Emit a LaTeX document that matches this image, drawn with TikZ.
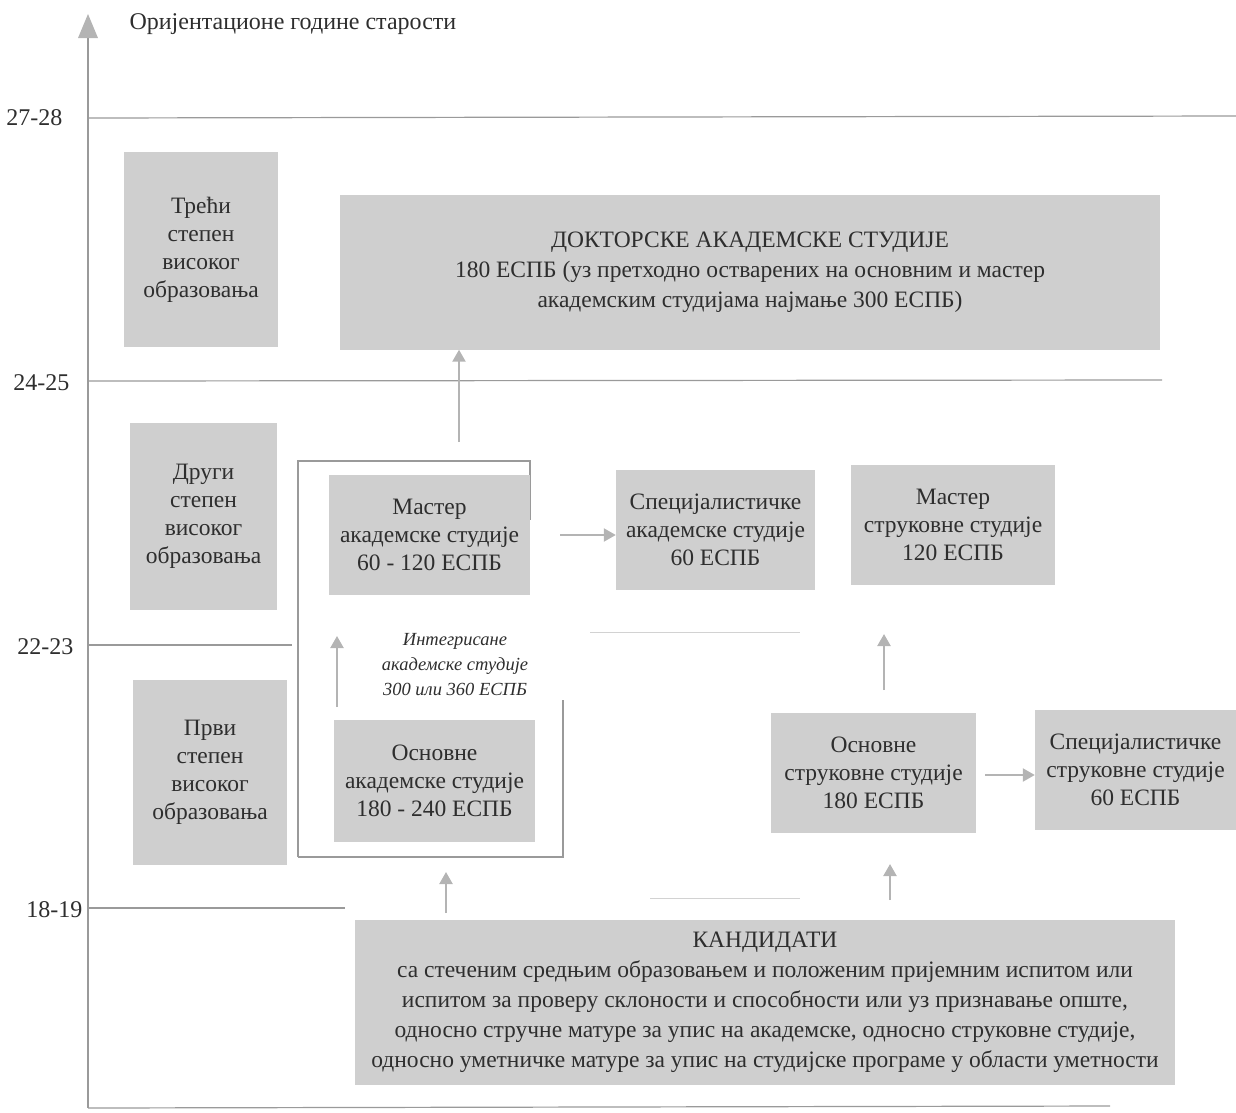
\documentclass[tikz,border=0pt]{standalone}
\usepackage{fontspec}
\setmainfont{Liberation Serif}
\usetikzlibrary{arrows.meta}
\definecolor{boxgray}{HTML}{CFCFCF}
\definecolor{linegray}{HTML}{9A9A9A}
\definecolor{arrgray}{HTML}{B4B4B4}
\definecolor{txt}{HTML}{2E2E2E}
\begin{document}
\begin{tikzpicture}[x=1pt,y=-1pt,
  gbox/.style={fill=boxgray, draw=none, align=center, text=txt, inner sep=0pt,
    font=\fontsize{23.5}{28}\selectfont},
  level/.style={draw=linegray, line width=1.2pt},
  garrow/.style={draw=arrgray, line width=2.2pt, -{Triangle[width=13pt,length=12pt]}},
  agelab/.style={text=txt, font=\fontsize{24}{28}\selectfont, anchor=east}
]
\useasboundingbox (0,0) rectangle (1236,1112);
% axis
\coordinate (axb) at (88,1108);
\coordinate (axt) at (88,14);
\draw[draw=linegray, line width=1.3pt] (axb) -- (88,34);
\fill[arrgray] (78,38) -- (88,14) -- (98,38) -- cycle;
\node[anchor=west, text=txt, font=\fontsize{24}{28}\selectfont] (title) at (126,24) {Оријентационе године старости};
% level lines
\coordinate (l1a) at (88,118); \coordinate (l1b) at (1236,116);
\coordinate (l2a) at (88,381); \coordinate (l2b) at (1162,380);
\coordinate (l3a) at (88,645); \coordinate (l3b) at (292,645);
\coordinate (l4a) at (88,908); \coordinate (l4b) at (345,908);
\coordinate (l5a) at (88,1108); \coordinate (l5b) at (1110,1106);
\draw[level] (l1a) -- (l1b);
\draw[level] (l2a) -- (l2b);
\draw[level] (l3a) -- (l3b);
\draw[level] (l4a) -- (l4b);
\draw[level] (l5a) -- (l5b);
\coordinate (f1a) at (590,632); \coordinate (f1b) at (800,632);
\coordinate (f2a) at (650,898); \coordinate (f2b) at (800,898);
\draw[draw=linegray!45, line width=1pt] (f1a) -- (f1b);
\draw[draw=linegray!45, line width=1pt] (f2a) -- (f2b);
\node[agelab] (a1) at (66,118) {27-28};
\node[agelab] (a2) at (73,383) {24-25};
\node[agelab] (a3) at (77,647) {22-23};
\node[agelab] (a4) at (86,910) {18-19};
% integrated frame
\draw[draw=linegray, line width=1.3pt] (298,857) -- (298,461) -- (530,461) -- (530,520);
\draw[draw=linegray, line width=1.3pt] (563,700) -- (563,857) -- (298,857);
% boxes
\node[gbox, minimum width=154pt, minimum height=195pt] (treci) at (201,249.5) {Трећи\\степен\\високог\\образовања};
\node[gbox, minimum width=820pt, minimum height=155pt, font=\fontsize{23.5}{30}\selectfont] (dokt) at (750,272) {ДОКТОРСКЕ АКАДЕМСКЕ СТУДИЈЕ\\180 ЕСПБ (уз претходно остварених на основним и мастер\\академским студијама најмање 300 ЕСПБ)};
\node[gbox, minimum width=147pt, minimum height=187pt] (drugi) at (203.5,516.5) {Други\\степен\\високог\\образовања};
\node[gbox, minimum width=201pt, minimum height=120pt] (masterak) at (429.5,535) {Мастер\\академске студије\\60 - 120 ЕСПБ};
\node[gbox, minimum width=199pt, minimum height=120pt] (specak) at (715.5,530) {Специјалистичке\\академске студије\\60 ЕСПБ};
\node[gbox, minimum width=204pt, minimum height=120pt] (masterstr) at (953,525) {Мастер\\струковне студије\\120 ЕСПБ};
\node[gbox, minimum width=154pt, minimum height=185pt] (prvi) at (210,772.5) {Први\\степен\\високог\\образовања};
\node[gbox, minimum width=201pt, minimum height=122pt] (osnak) at (434.5,781) {Основне\\академске студије\\180 - 240 ЕСПБ};
\node[gbox, minimum width=205pt, minimum height=120pt] (osnstr) at (873.5,773) {Основне\\струковне студије\\180 ЕСПБ};
\node[gbox, minimum width=201pt, minimum height=120pt] (specstr) at (1135.5,770) {Специјалистичке\\струковне студије\\60 ЕСПБ};
\node[gbox, minimum width=820pt, minimum height=165pt, font=\fontsize{23.5}{30}\selectfont] (kand) at (765,1002.5) {КАНДИДАТИ\\са стеченим средњим образовањем и положеним пријемним испитом или\\испитом за проверу склоности и способности или уз признавање опште,\\односно стручне матуре за упис на академске, односно струковне студије,\\односно уметничке матуре за упис на студијске програме у области уметности};
\node[align=center, text=txt, font=\itshape\fontsize{18.5}{25}\selectfont] (integ) at (455,665) {Интегрисане\\академске студије\\300 или 360 ЕСПБ};
% arrows
\coordinate (i1) at (337,707); \coordinate (i2) at (337,636);
\draw[garrow] (i1) -- (i2);
\draw[garrow] (459,442) -- (dokt.south -| 459,0);
\draw[garrow] (masterak.east) ++(30,0) coordinate (m1) -- (specak.west |- m1);
\draw[garrow] (884,690) -- (884,634);
\draw[garrow] (osnstr.east) ++(9,2) coordinate (o1) -- (specstr.west |- o1);
\draw[garrow] (446,913) -- (446,872);
\draw[garrow] (890,900) -- (890,864);
\end{tikzpicture}
\end{document}
